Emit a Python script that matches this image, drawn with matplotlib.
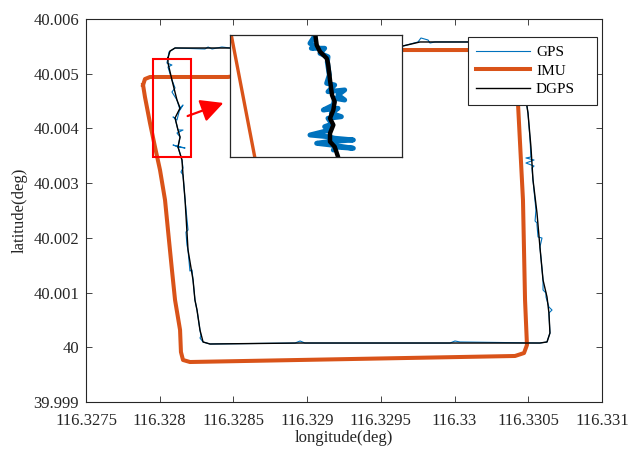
import matplotlib
matplotlib.use("Agg")
import matplotlib.pyplot as plt
from matplotlib.patches import Rectangle, FancyArrowPatch

plt.rcParams['font.family'] = ['Liberation Serif', 'DejaVu Serif']

# ---------------- data (deg) ----------------
gps_lon = [116.328056, 116.328063, 116.328104, 116.328307, 116.328328, 116.328355, 116.328422, 116.328477,
           116.328952, 116.329291, 116.329650, 116.329752, 116.329772, 116.329820, 116.329833, 116.329867,
           116.330091, 116.330410, 116.330451, 116.330464, 116.330498, 116.330512, 116.330518, 116.330484,
           116.330539, 116.330484, 116.330539, 116.330525, 116.330532, 116.330552, 116.330546, 116.330559,
           116.330559, 116.330566, 116.330593, 116.330579, 116.330600, 116.330600, 116.330620, 116.330620,
           116.330640, 116.330661, 116.330640, 116.330647, 116.330627, 116.330579, 116.330037, 116.330003,
           116.329969, 116.328985, 116.328952, 116.328918, 116.328341, 116.328294, 116.328273, 116.328280,
           116.328273, 116.328253, 116.328239, 116.328226, 116.328219, 116.328205, 116.328192, 116.328185,
           116.328178, 116.328192, 116.328172, 116.328158, 116.328144, 116.328158, 116.328151, 116.328124,
           116.328090, 116.328172, 116.328124, 116.328138, 116.328117, 116.328158, 116.328124, 116.328104,
           116.328090, 116.328117, 116.328138, 116.328158, 116.328138, 116.328117, 116.328083, 116.328104,
           116.328083, 116.328056, 116.328083, 116.328049, 116.328056]
gps_lat = [40.005287, 40.005397, 40.005470, 40.005452, 40.005488, 40.005452, 40.005488, 40.005470,
           40.005488, 40.005488, 40.005507, 40.005580, 40.005653, 40.005616, 40.005561, 40.005580,
           40.005580, 40.005580, 40.005525, 40.004885, 40.004282, 40.003789, 40.003478, 40.003460,
           40.003423, 40.003368, 40.003313, 40.003277, 40.003057, 40.002509, 40.002308, 40.002272,
           40.002235, 40.002016, 40.001997, 40.001833, 40.001230, 40.001047, 40.000992, 40.000919,
           40.000736, 40.000681, 40.000627, 40.000261, 40.000097, 40.000078, 40.000097, 40.000115,
           40.000078, 40.000078, 40.000115, 40.000078, 40.000060, 40.000097, 40.000170, 40.000206,
           40.000316, 40.000681, 40.000864, 40.001230, 40.001413, 40.001394, 40.001778, 40.001869,
           40.002107, 40.002144, 40.002692, 40.003149, 40.003204, 40.003277, 40.003423, 40.003661,
           40.003697, 40.003642, 40.003661, 40.003843, 40.003916, 40.003971, 40.003971, 40.004191,
           40.004209, 40.004154, 40.004373, 40.004428, 40.004337, 40.004520, 40.004666, 40.004739,
           40.004885, 40.005123, 40.005159, 40.005196, 40.005287]

imu_lon = [116.327887, 116.327900, 116.327934, 116.328463, 116.329650, 116.330091, 116.330403, 116.330430,
           116.330430, 116.330464, 116.330478, 116.330491, 116.330471, 116.330410, 116.328205, 116.328158,
           116.328144, 116.328138, 116.328104, 116.328083, 116.328056, 116.328036, 116.328002, 116.327968,
           116.327934, 116.327900, 116.327887]
imu_lat = [40.004794, 40.004903, 40.004940, 40.004940, 40.005433, 40.005433, 40.005415, 40.005324,
           40.004465, 40.002692, 40.000864, 40.000042, 39.999895, 39.999841, 39.999731, 39.999768,
           39.999914, 40.000316, 40.000864, 40.001413, 40.002144, 40.002692, 40.003240, 40.003661,
           40.004099, 40.004574, 40.004794]

dgps_lon = [116.328056, 116.328070, 116.328104, 116.328477, 116.328952, 116.329291, 116.329650, 116.329765,
            116.330091, 116.330410, 116.330451, 116.330464, 116.330498, 116.330518, 116.330532, 116.330559,
            116.330579, 116.330600, 116.330627, 116.330640, 116.330647, 116.330627, 116.330579, 116.329969,
            116.328952, 116.328341, 116.328294, 116.328273, 116.328253, 116.328239, 116.328226, 116.328192,
            116.328172, 116.328158, 116.328151, 116.328124, 116.328138, 116.328124, 116.328104, 116.328138,
            116.328117, 116.328083, 116.328056, 116.328056]
dgps_lat = [40.005287, 40.005415, 40.005470, 40.005470, 40.005488, 40.005488, 40.005507, 40.005580,
            40.005580, 40.005580, 40.005525, 40.004885, 40.004282, 40.003661, 40.003057, 40.002454,
            40.001833, 40.001230, 40.000919, 40.000627, 40.000261, 40.000097, 40.000078, 40.000078,
            40.000078, 40.000060, 40.000097, 40.000316, 40.000681, 40.000864, 40.001230, 40.001778,
            40.002692, 40.003149, 40.003423, 40.003661, 40.003843, 40.003971, 40.004191, 40.004373,
            40.004520, 40.004885, 40.005196, 40.005287]

# zoomed detail shown in the inset
inset_gps_lon = [116.328082, 116.328074, 116.328084, 116.328076, 116.328096, 116.328089, 116.328101, 116.328100,
                 116.328103, 116.328099, 116.328111, 116.328101, 116.328126, 116.328116, 116.328126, 116.328111,
                 116.328109, 116.328094, 116.328116, 116.328106, 116.328121, 116.328101, 116.328107, 116.328096,
                 116.328104, 116.328074, 116.328101, 116.328111, 116.328139, 116.328101, 116.328084, 116.328106,
                 116.328139, 116.328112, 116.328109]
inset_gps_lat = [40.005269, 40.005147, 40.005097, 40.005074, 40.005074, 40.005000, 40.004950, 40.004873,
                 40.004682, 40.004560, 40.004535, 40.004437, 40.004462, 40.004388, 40.004315, 40.004340,
                 40.004241, 40.004168, 40.004193, 40.004120, 40.004070, 40.004046, 40.003962, 40.003923,
                 40.003874, 40.003801, 40.003776, 40.003753, 40.003728, 40.003703, 40.003679, 40.003654,
                 40.003606, 40.003625, 40.003581]
inset_imu_lon = [116.327953, 116.327994]
inset_imu_lat = [40.005416, 40.003331]
inset_dgps_lon = [116.328082, 116.328082, 116.328084, 116.328089, 116.328099, 116.328101, 116.328104, 116.328107,
                  116.328111, 116.328109, 116.328104, 116.328109, 116.328104, 116.328104, 116.328111, 116.328116,
                  116.328118]
inset_dgps_lat = [40.005372, 40.005269, 40.005122, 40.005024, 40.004927, 40.004854, 40.004608, 40.004388,
                  40.004290, 40.004168, 40.004046, 40.003948, 40.003826, 40.003703, 40.003629, 40.003482,
                  40.003361]

zoom_lon = [116.327954, 116.328212]
zoom_lat = [40.003478, 40.005269]

xticks = [116.3275, 116.328, 116.3285, 116.329, 116.3295, 116.33, 116.3305, 116.331]
xtick_labels = ['116.3275', '116.328', '116.3285', '116.329', '116.3295', '116.33', '116.3305', '116.331']
yticks = [39.999, 40.0, 40.001, 40.002, 40.003, 40.004, 40.005, 40.006]
ytick_labels = ['39.999', '40', '40.001', '40.002', '40.003', '40.004', '40.005', '40.006']

C_GPS = '#0072BD'
C_IMU = '#D95319'
C_DGPS = '#000000'
AXC = '#262626'

fig = plt.figure(figsize=(6.28, 4.51), dpi=100)
ax = fig.add_axes([86/628, 49/451, 516/628, 383/451])

ax.plot(gps_lon, gps_lat, color=C_GPS, lw=0.8, label='GPS')
ax.plot(imu_lon, imu_lat, color=C_IMU, lw=2.9, label='IMU', solid_joinstyle='round')
ax.plot(dgps_lon, dgps_lat, color=C_DGPS, lw=1.0, label='DGPS')

ax.set_xlim(xticks[0], xticks[-1])
ax.set_ylim(yticks[0], yticks[-1])
ax.set_xticks(xticks)
ax.set_xticklabels(xtick_labels)
ax.set_yticks(yticks)
ax.set_yticklabels(ytick_labels)
ax.tick_params(direction='in', length=4, width=0.6, top=True, right=True,
               labelsize=12, colors=AXC)
ax.tick_params(axis='x', pad=8)
ax.tick_params(axis='y', pad=5)
for s in ax.spines.values():
    s.set_linewidth(0.8)
    s.set_color(AXC)
ax.set_xlabel('longitude(deg)', fontsize=12, color=AXC, labelpad=1)
ax.set_ylabel('latitude(deg)', fontsize=12, color=AXC, labelpad=4)

ax.add_patch(Rectangle((zoom_lon[0], zoom_lat[0]), zoom_lon[1]-zoom_lon[0], zoom_lat[1]-zoom_lat[0],
                       fill=False, edgecolor='#FF0000', lw=1.5, zorder=5))

leg = ax.legend(loc='upper left', bbox_to_anchor=(468/628, 1-103/451, 129/628, 66/451),
                bbox_transform=fig.transFigure, mode='expand', borderaxespad=0,
                fontsize=11, handlelength=3.5, handletextpad=0.4, labelspacing=0.32,
                fancybox=False, framealpha=1, edgecolor=AXC, borderpad=0.55)
leg.get_frame().set_linewidth(0.8)

# inset
axi = fig.add_axes([230/628, (451-157)/451, 172/628, 122/451])
axi.plot(inset_gps_lon, inset_gps_lat, color=C_GPS, lw=3.6, solid_joinstyle='round', solid_capstyle='round')
axi.plot(inset_imu_lon, inset_imu_lat, color=C_IMU, lw=2.4)
axi.plot(inset_dgps_lon, inset_dgps_lat, color=C_DGPS, lw=3.2, solid_joinstyle='round')
axi.set_xlim(zoom_lon)
axi.set_ylim(zoom_lat)
axi.set_xticks([])
axi.set_yticks([])
for s in axi.spines.values():
    s.set_linewidth(0.9)
    s.set_color(AXC)

fig.add_artist(FancyArrowPatch(
    (185/628, 1-117/451), (226/628, 1-102/451), transform=fig.transFigure,
    arrowstyle='-|>,head_length=0.55,head_width=0.28', mutation_scale=25,
    color='#FF0000', lw=1.6))

fig.savefig('out.png', dpi=100)
